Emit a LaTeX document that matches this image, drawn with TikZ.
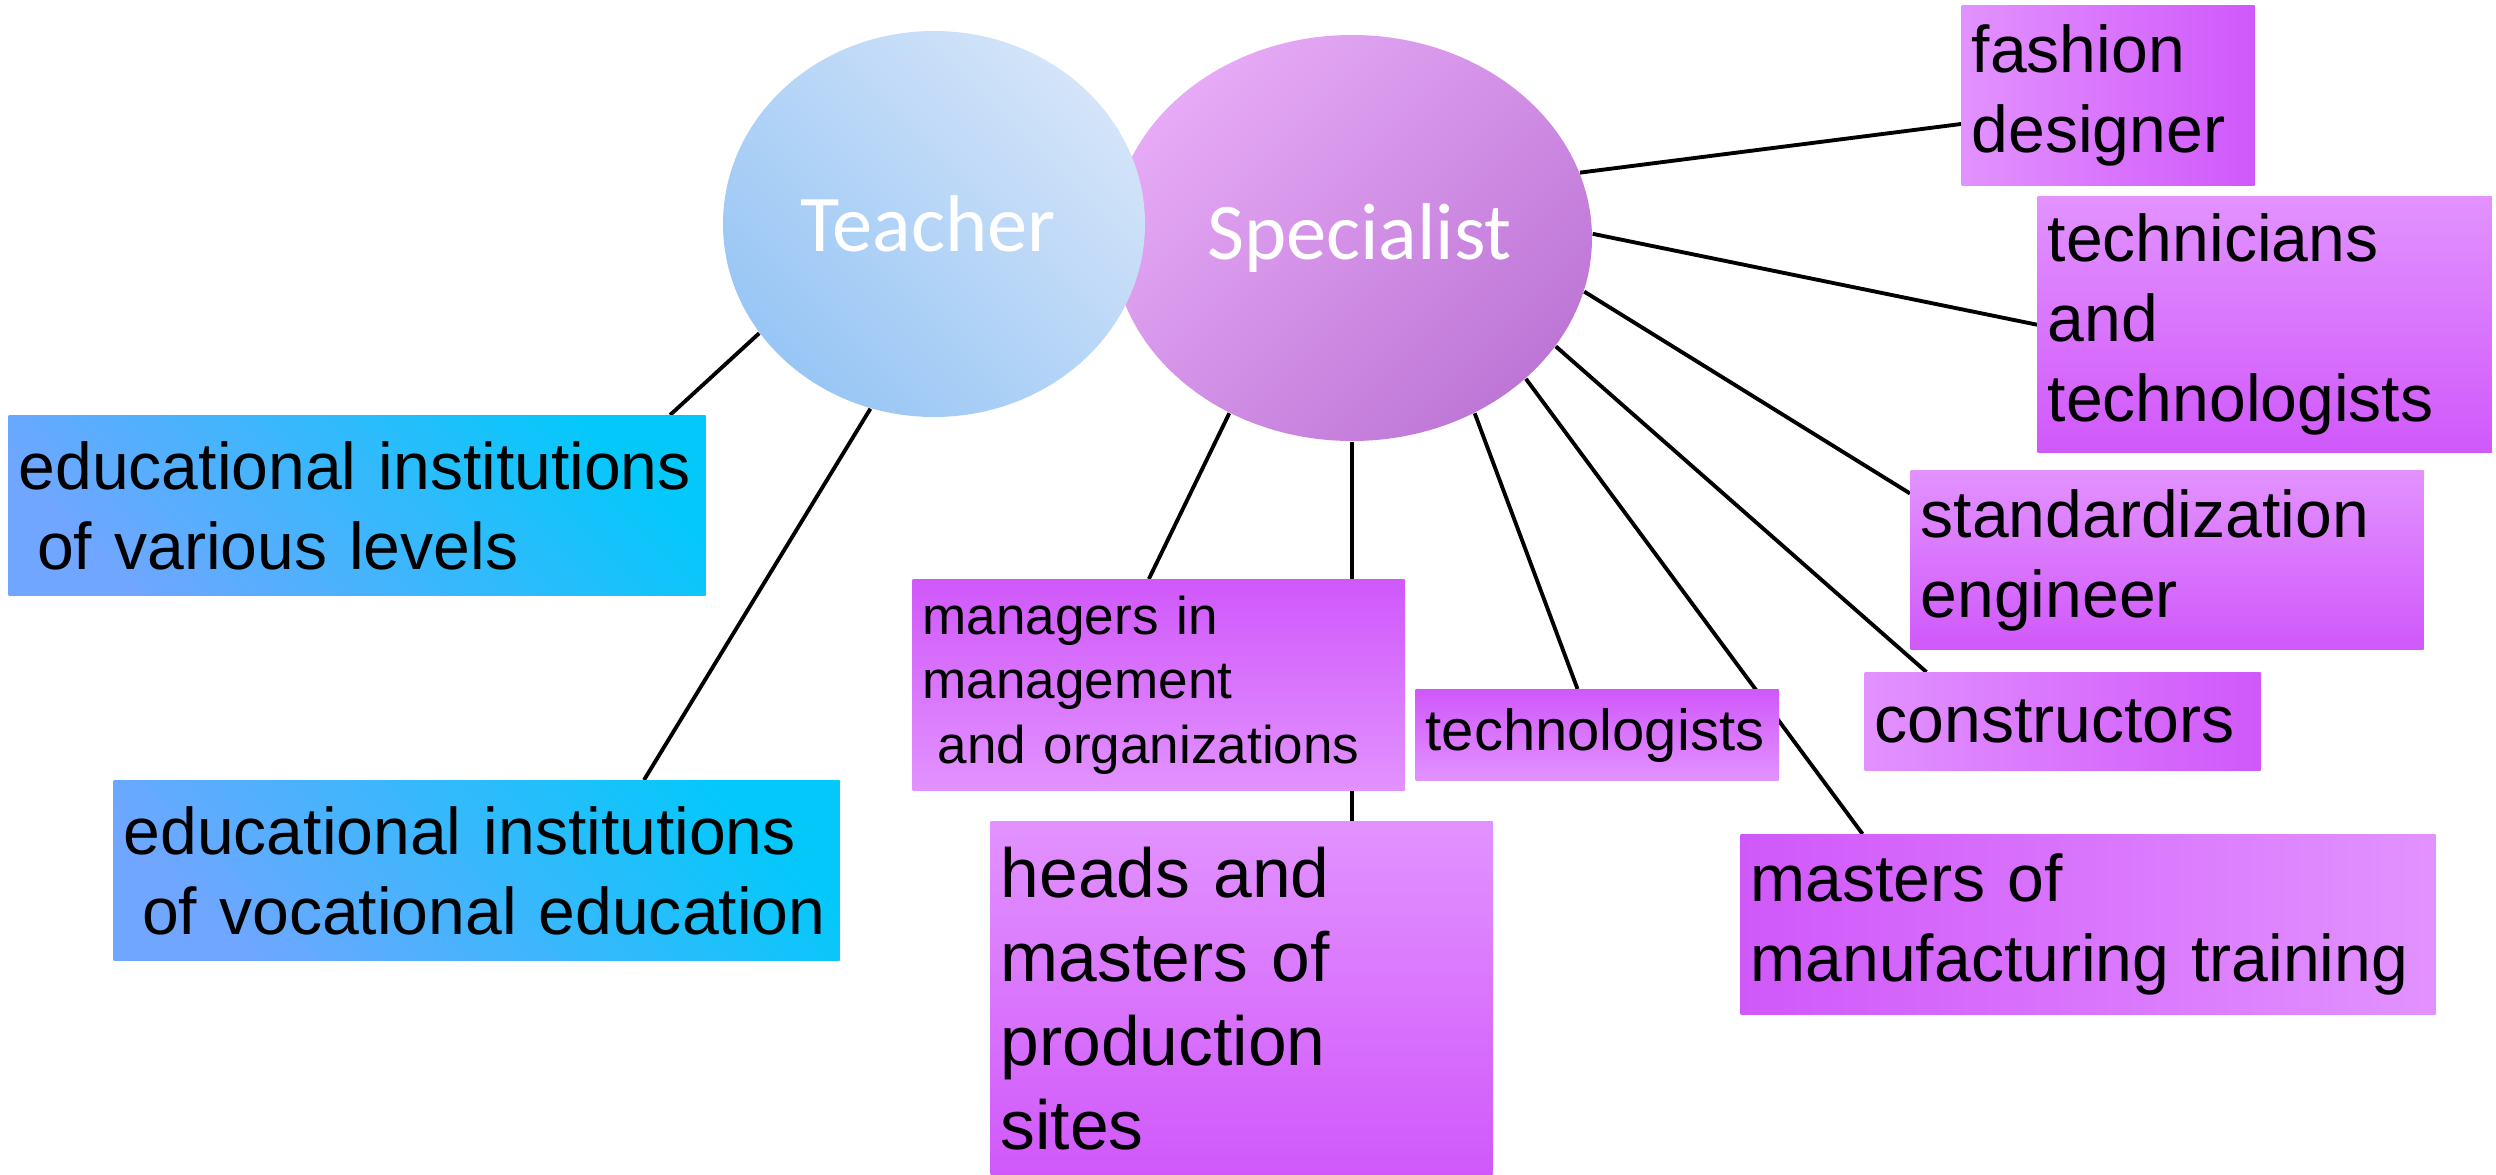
\documentclass[tikz,border=0pt]{standalone}
\usepackage{fontspec}
\setmainfont{Liberation Sans}
\newfontfamily\carlito{Carlito}
\usetikzlibrary{positioning, calc, shapes.geometric, backgrounds}
\definecolor{teachlight}{RGB}{212,228,249}
\definecolor{teachdark}{RGB}{152,198,245}
\definecolor{speclight}{RGB}{230,170,246}
\definecolor{specdark}{RGB}{190,118,214}
\definecolor{bluelight}{RGB}{5,200,250}
\definecolor{bluedark}{RGB}{112,166,255}
\definecolor{violetlight}{RGB}{226,146,255}
\definecolor{violetdark}{RGB}{208,88,250}

\begin{document}
\begin{tikzpicture}[
    role/.style={ellipse, inner sep=0pt, text=white, font=\carlito\fontsize{22.9}{27}\selectfont},
    box/.style={rectangle, anchor=north west, inner xsep=0.1cm, inner ysep=0pt, align=left, font=\fontsize{18.8}{22.8}\selectfont},
    smallbox/.style={box, font=\fontsize{15.1}{18.3}\selectfont},
    bigbox/.style={box, font=\fontsize{19.8}{23.9}\selectfont},
    bluebox/.style={top color=bluelight, bottom color=bluedark, shading angle=-45},
    violetdown/.style={top color=violetlight, bottom color=violetdark},
    violetup/.style={top color=violetdark, bottom color=violetlight},
    violetright/.style={left color=violetlight, right color=violetdark},
    violetleft/.style={left color=violetdark, right color=violetlight},
    link/.style={line width=1.1pt}
]
\useasboundingbox (0,0) rectangle (24.96,-11.75);

% Specialist and Teacher
\node[role, minimum width=4.80cm, minimum height=4.06cm, top color=speclight, bottom color=specdark, shading angle=45] (specialist) at (13.52,-2.38) {\hspace*{0.15cm}Specialist};
\node[role, minimum width=4.22cm, minimum height=3.86cm, top color=teachlight, bottom color=teachdark, shading angle=-45] (teacher) at (9.34,-2.24) {Teacher\hspace*{0.12cm}};

% Teacher boxes
\node[box, bluebox, text width=6.77cm, minimum height=1.80cm] (levels) at (0.08,-4.15) {educational institutions\\\hspace*{.28em}of various levels};
\node[box, bluebox, text width=7.06cm, minimum height=1.80cm] (vocational) at (1.13,-7.80) {educational institutions\\\hspace*{.28em}of vocational education};

% Specialist boxes
\node[box, violetright, text width=2.73cm, minimum height=1.80cm] (fashion) at (19.61,-0.05) {fashion\\designer};
\node[box, violetdown, text width=4.34cm, minimum height=2.56cm] (technicians) at (20.37,-1.96) {technicians\\and\\technologists};
\node[box, violetdown, text width=4.93cm, minimum height=1.79cm] (standard) at (19.10,-4.70) {standardization\\engineer};
\node[box, violetright, text width=3.76cm, minimum height=0.98cm] (constructors) at (18.64,-6.72) {constructors};
\node[box, violetleft, text width=6.75cm, minimum height=1.80cm] (training) at (17.40,-8.34) {masters of\\manufacturing training};
\node[smallbox, violetup, text width=3.43cm, minimum height=0.91cm, font=\fontsize{16.5}{19}\selectfont] (technologists) at (14.15,-6.89) {technologists};
\node[smallbox, violetup, text width=4.72cm, minimum height=2.11cm] (managers) at (9.12,-5.79) {managers in\\management\\\hspace*{.28em}and organizations};
\node[bigbox, violetdown, text width=4.82cm, minimum height=3.54cm] (heads) at (9.90,-8.21) {heads and\\masters of\\production\\sites};

% connectors
\begin{scope}[on background layer]
\draw[link] (teacher.212) -- ($(levels.north west)!0.948!(levels.north east)$);
\draw[link] (teacher.251) -- ($(vocational.north west)!0.73!(vocational.north east)$);
\draw[link] (specialist.16.5) -- ($(fashion.north west)!0.656!(fashion.south west)$);
\draw[link] (specialist.1) -- (technicians.west);
\draw[link] (specialist.347) -- ($(standard.north west)!0.13!(standard.south west)$);
\draw[link] (specialist.332) -- ($(constructors.north west)!0.157!(constructors.north east)$);
\draw[link] (specialist.321) -- ($(training.north west)!0.176!(training.north east)$);
\draw[link] (specialist.305) -- ($(technologists.north west)!0.446!(technologists.north east)$);
\draw[link] (specialist.235) -- ($(managers.north west)!0.48!(managers.north east)$);
\draw[link] (specialist.south) -- (specialist.south |- heads.north);
\end{scope}

\end{tikzpicture}
\end{document}
